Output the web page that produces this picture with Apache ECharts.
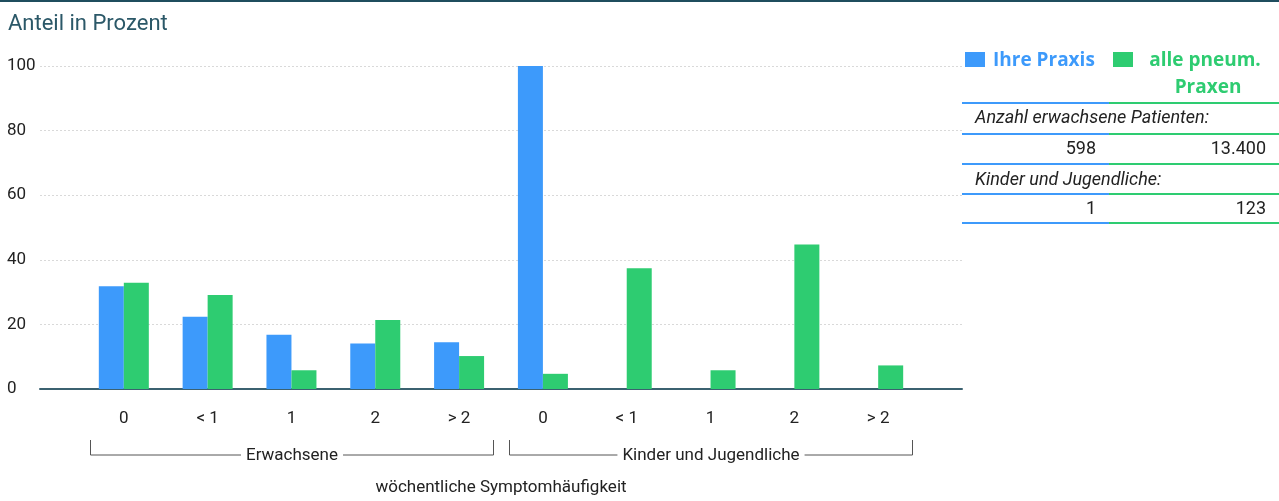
<!DOCTYPE html>
<html>
<head>
<meta charset="utf-8">
<script src="https://cdn.jsdelivr.net/npm/echarts@6/dist/echarts.min.js"></script>
<style>
  html, body { margin: 0; padding: 0; background: #fff; }
  #chart { width: 1279px; height: 501px; }
</style>
</head>
<body>
<div id="chart"></div>
<script>
// ---- data ----
const categories = ['0', '< 1', '1', '2', '> 2', '0', '< 1', '1', '2', '> 2'];
const groupNames = ['Erwachsene', 'Kinder und Jugendliche'];
const groupSize = 5;
const ihrePraxis = [31.8, 22.4, 16.8, 14.1, 14.5, 100, 0, 0, 0, 0];
const allePraxen = [32.9, 29.1, 5.8, 21.4, 10.2, 4.7, 37.4, 5.8, 44.7, 7.3];
const yTicks = [0, 20, 40, 60, 80, 100];
const seriesNames = ['Ihre Praxis', 'alle pneum. Praxen'];
const tableRows = [
  { label: 'Anzahl erwachsene Patienten:', ihre: '598', alle: '13.400' },
  { label: 'Kinder und Jugendliche:', ihre: '1', alle: '123' }
];

const BLUE = '#3d9afb';
const GREEN = '#2ecc71';
const FONT = 'Roboto';
const LFONT = '"Open Sans"';

// padded axis (half-band margin each side)
const axisCats = [''].concat(categories, ['']);
const pad = arr => [null].concat(arr, [null]);

const chart = echarts.init(document.getElementById('chart'), null, { renderer: 'canvas' });

const option = {
  animation: false,
  textStyle: { fontFamily: FONT },
  title: {
    text: 'Anteil in Prozent',
    left: 3, top: 8,
    textStyle: { fontFamily: FONT, fontSize: 22, fontWeight: 'normal', color: '#2b5868' }
  },
  grid: { left: 40, right: 317, top: 66, bottom: 112, containLabel: false },
  xAxis: {
    type: 'category',
    data: axisCats,
    boundaryGap: false,
    axisLine: { lineStyle: { color: '#3b6170', width: 2 } },
    axisTick: { show: false },
    splitLine: { show: false },
    axisLabel: { color: '#222', fontSize: 17, margin: 21, interval: 0, fontFamily: FONT },
    name: 'wöchentliche Symptomhäufigkeit',
    nameLocation: 'middle',
    nameGap: 90,
    nameTextStyle: { color: '#222', fontSize: 17, fontFamily: FONT }
  },
  yAxis: {
    type: 'value',
    min: yTicks[0], max: yTicks[yTicks.length - 1], interval: yTicks[1] - yTicks[0],
    axisLine: { show: false },
    axisTick: { show: false },
    axisLabel: { color: '#222', fontSize: 17, align: 'left', margin: 33, fontFamily: FONT },
    splitLine: { lineStyle: { color: '#d9d9d9', type: [2, 2], width: 1 } }
  },
  series: [
    {
      name: seriesNames[0], type: 'bar', data: pad(ihrePraxis),
      barWidth: 25, barGap: '0%',
      itemStyle: { color: BLUE }
    },
    {
      name: seriesNames[1], type: 'bar', data: pad(allePraxen),
      barWidth: 25, barGap: '0%',
      itemStyle: { color: GREEN }
    }
  ]
};
chart.setOption(option);

// ---- graphics: top rule, legend, table, group brackets ----
const g = [];
g.push({ type: 'rect', shape: { x: 0, y: 0, width: 1279, height: 2 }, style: { fill: '#1f4d5e' }, silent: true });

// legend
g.push({ type: 'rect', shape: { x: 965, y: 52, width: 20, height: 15 }, style: { fill: BLUE } });
g.push({ type: 'text', x: 993, y: 61, style: { text: seriesNames[0], fill: BLUE, font: 'bold 19px ' + LFONT, verticalAlign: 'middle' } });
g.push({ type: 'rect', shape: { x: 1113, y: 52, width: 20, height: 15 }, style: { fill: GREEN } });
g.push({ type: 'text', x: 1205, y: 61, style: { text: 'alle pneum.', fill: GREEN, font: 'bold 19px ' + LFONT, align: 'center', verticalAlign: 'middle' } });
g.push({ type: 'text', x: 1208, y: 88, style: { text: 'Praxen', fill: GREEN, font: 'bold 19px ' + LFONT, align: 'center', verticalAlign: 'middle' } });

// table
const lineYs = [103, 134, 164, 194, 223];
lineYs.forEach(y => {
  g.push({ type: 'rect', shape: { x: 962, y: y - 1, width: 147, height: 2 }, style: { fill: BLUE } });
  g.push({ type: 'rect', shape: { x: 1109, y: y - 1, width: 170, height: 2 }, style: { fill: GREEN } });
});
tableRows.forEach((r, i) => {
  const yl = 118 + i * 62;
  const yv = 149 + i * 60;
  g.push({ type: 'text', x: 975, y: yl, style: { text: r.label, fill: '#222', font: 'italic 18px ' + FONT, verticalAlign: 'middle' } });
  g.push({ type: 'text', x: 1096, y: yv, style: { text: r.ihre, fill: '#222', font: '18px ' + FONT, align: 'right', verticalAlign: 'middle' } });
  g.push({ type: 'text', x: 1266, y: yv, style: { text: r.alle, fill: '#222', font: '18px ' + FONT, align: 'right', verticalAlign: 'middle' } });
});

// group brackets computed from axis positions
const c0 = chart.convertToPixel({ xAxisIndex: 0 }, 1);
const c1 = chart.convertToPixel({ xAxisIndex: 0 }, 2);
const band = c1 - c0;
const bracketY = 455, tickTop = 440;
groupNames.forEach((name, gi) => {
  const first = chart.convertToPixel({ xAxisIndex: 0 }, 1 + gi * groupSize);
  const last = chart.convertToPixel({ xAxisIndex: 0 }, gi * groupSize + groupSize);
  const x1 = Math.round(first - 0.4 * band) + 0.5;
  const x2 = Math.round(last + 0.4 * band) + 0.5;
  g.push({ type: 'polyline', shape: { points: [[x1, tickTop], [x1, bracketY], [x2, bracketY], [x2, tickTop]] },
           style: { stroke: '#555', lineWidth: 1, fill: null } });
  g.push({ type: 'text', x: (x1 + x2) / 2, y: bracketY + 1, z: 10,
           style: { text: name, fill: '#222', font: '17px ' + FONT, align: 'center', verticalAlign: 'middle',
                    backgroundColor: '#fff', padding: [0, 5] } });
});
chart.setOption({ graphic: { elements: g } });
</script>
</body>
</html>
